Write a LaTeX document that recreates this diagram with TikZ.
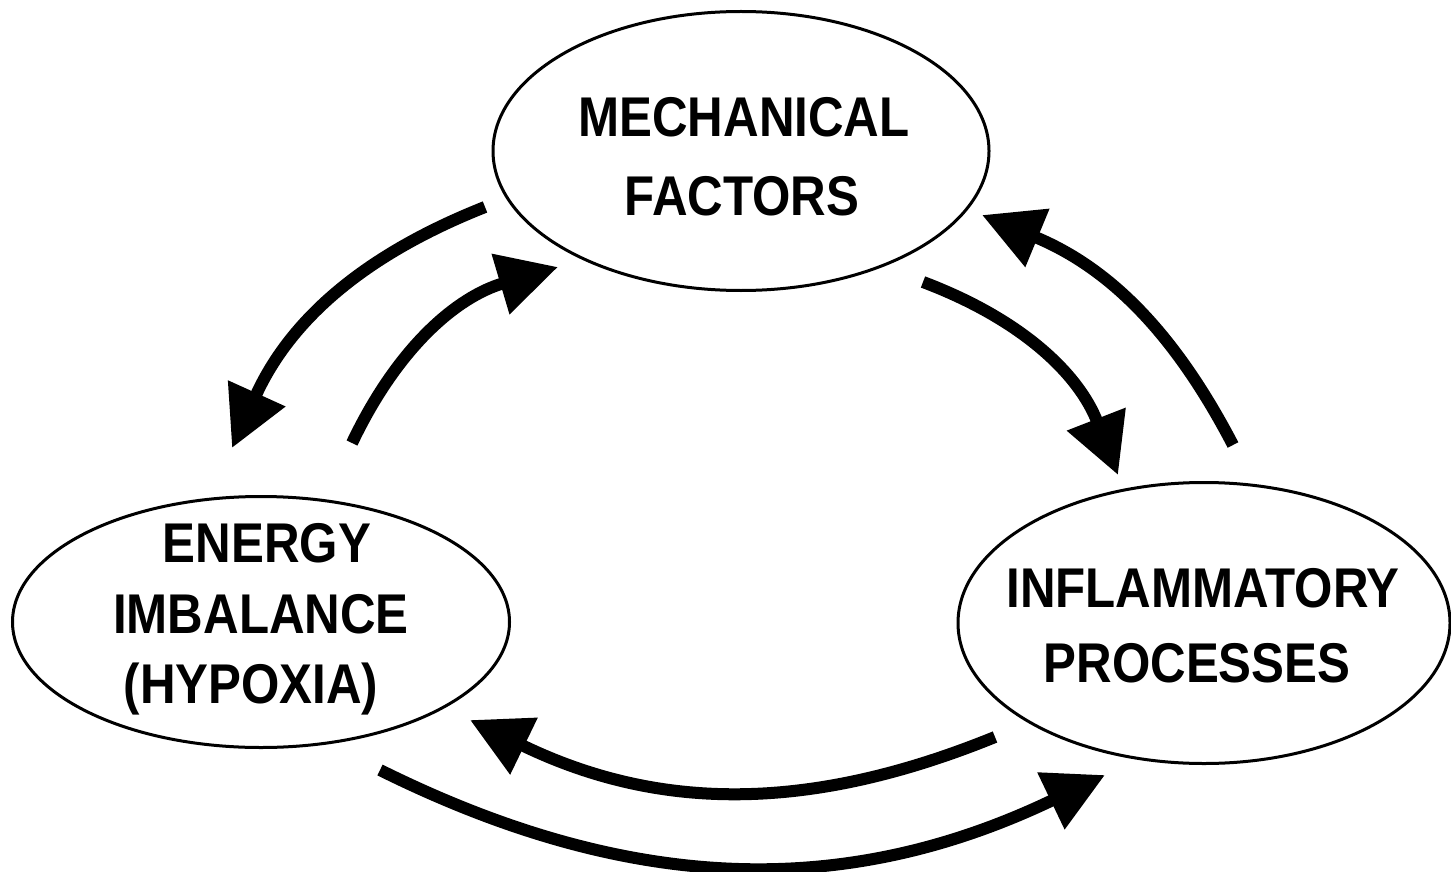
\documentclass[tikz,border=0pt]{standalone}
\usepackage{fontspec}
\newfontfamily\labfont[FakeStretch=0.88]{Liberation Sans}
\usetikzlibrary{shapes.geometric,arrows.meta}
\begin{document}
\begin{tikzpicture}[x=1pt,y=-1pt,
  ell/.style={draw=black,line width=3pt,ellipse,inner sep=0pt},
  lab/.style={anchor=base,inner sep=0pt,font=\labfont\bfseries\fontsize{56}{75}\selectfont},
  arr/.style={line width=12pt,-{Triangle[length=60pt,width=60pt]}}]
\useasboundingbox (0,0) rectangle (1451,872);
\node[ell,minimum width=496pt,minimum height=279pt] (mech) at (741,151) {};
\node[ell,minimum width=497pt,minimum height=251pt] (energy) at (261,622) {};
\node[ell,minimum width=492pt,minimum height=281pt] (infl) at (1204,623) {};
\node[lab] (mech1) at (744,137) {MECHANICAL};
\node[lab] (mech2) at (742,215) {FACTORS};
\node[lab] (en1) at (267,562) {ENERGY};
\node[lab] (en2) at (261,633) {IMBALANCE};
\node[lab] (en3) at (251,703) {(HYPOXIA)};
\node[lab] (in1) at (1203,607) {INFLAMMATORY};
\node[lab] (in2) at (1197,682) {PROCESSES};
\coordinate (a1s) at (485,207);  \coordinate (a1e) at (232,448);
\coordinate (a2s) at (352,443);  \coordinate (a2e) at (558,267);
\coordinate (a3s) at (923,282);  \coordinate (a3e) at (1118,475);
\coordinate (a4s) at (1233,445); \coordinate (a4e) at (982,215);
\coordinate (a5s) at (995,737);  \coordinate (a5e) at (470,720);
\coordinate (a6s) at (380,770);  \coordinate (a6e) at (1105,775);
\draw[arr] (a1s) to[bend right=22] (a1e);
\draw[arr] (a2s) to[bend left=24] (a2e);
\draw[arr] (a3s) to[bend left=24] (a3e);
\draw[arr] (a4s) to[bend right=20] (a4e);
\draw[arr] (a5s) to[bend left=24] (a5e);
\draw[arr] (a6s) to[bend right=26] (a6e);
\end{tikzpicture}
\end{document}
